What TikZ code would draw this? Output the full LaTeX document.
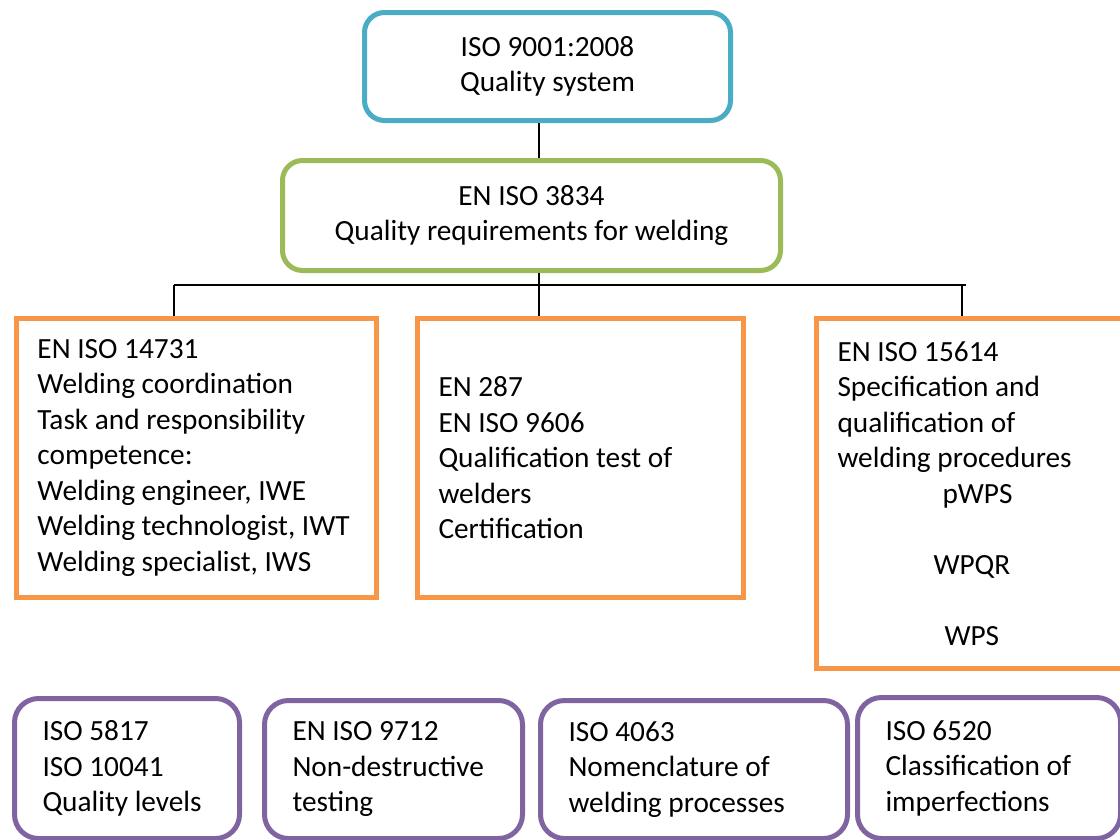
\documentclass[tikz,border=0pt]{standalone}
\usepackage{fontspec}
\setmainfont{Carlito}
\definecolor{cblue}{HTML}{4BACC6}
\definecolor{cgreen}{HTML}{9BBB59}
\definecolor{corange}{HTML}{F79646}
\definecolor{cpurple}{HTML}{8064A2}
\begin{document}
\begin{tikzpicture}[x=1pt,y=-1pt,
  txt/.style={font=\fontsize{29.3}{35.5}\selectfont},
  box/.style={txt,draw,line width=5pt,anchor=north west,inner ysep=0pt},
  topbox/.style={box,rounded corners=20pt,align=center},
  obox/.style={box,color=corange,text=black,align=flush left,inner xsep=21pt},
  pbox/.style={box,color=cpurple,text=black,align=flush left,rounded corners=24pt,inner xsep=28pt},
  conn/.style={line width=1.3pt,black}]
\useasboundingbox[fill=white] (0,0) rectangle (1120,839);
\node[topbox,color=cblue,text=black,minimum width=366pt,minimum height=108pt] (iso9001) at (362,10) {ISO 9001:2008\\Quality system};
\node[topbox,color=cgreen,text=black,minimum width=498pt,minimum height=110pt] (iso3834) at (280,158) {EN ISO 3834\\Quality requirements for welding};
\node[obox,minimum width=360pt,minimum height=279pt,text width=318pt] (iso14731) at (14,316) {EN ISO 14731\\Welding coordination\\Task and responsibility\\competence:\\Welding engineer, IWE\\Welding technologist, IWT\\Welding specialist, IWS};
\node[obox,minimum width=326pt,minimum height=279pt,text width=284pt] (en287) at (415,316) {EN 287\\EN ISO 9606\\Qualification test of\\welders\\Certification};
\node[obox,minimum width=320pt,minimum height=350pt,text width=278pt] (iso15614) at (814,316) {EN ISO 15614\\Specification and\\qualification of\\welding procedures\\\hspace*{105pt}pWPS\\[35.5pt]\hspace*{96pt}WPQR\\[35.5pt]\hspace*{107pt}WPS};
\node[pbox,minimum width=225pt,minimum height=140pt,text width=169pt] (iso5817) at (12,696) {ISO 5817\\ISO 10041\\Quality levels};
\node[pbox,minimum width=258pt,minimum height=138pt,text width=202pt] (iso9712) at (262,698) {EN ISO 9712\\Non-destructive\\testing};
\node[pbox,minimum width=307pt,minimum height=138pt,text width=251pt] (iso4063) at (538,698) {ISO 4063\\Nomenclature of\\welding processes};
\node[pbox,minimum width=263pt,minimum height=141pt,text width=207pt] (iso6520) at (855,695) {ISO 6520\\Classification of\\imperfections};
\coordinate (bus) at (539,285);
\draw[conn] (iso9001.south -| bus) -- (iso3834.north -| bus);
\draw[conn] (iso3834.south -| bus) -- (en287.north -| bus);
\draw[conn] (174,285) coordinate (busL) -- (966,285) coordinate (busR);
\draw[conn] (busL) -- (busL |- iso14731.north);
\draw[conn] (962,285) coordinate (busR2) -- (busR2 |- iso15614.north);
\end{tikzpicture}
\end{document}
